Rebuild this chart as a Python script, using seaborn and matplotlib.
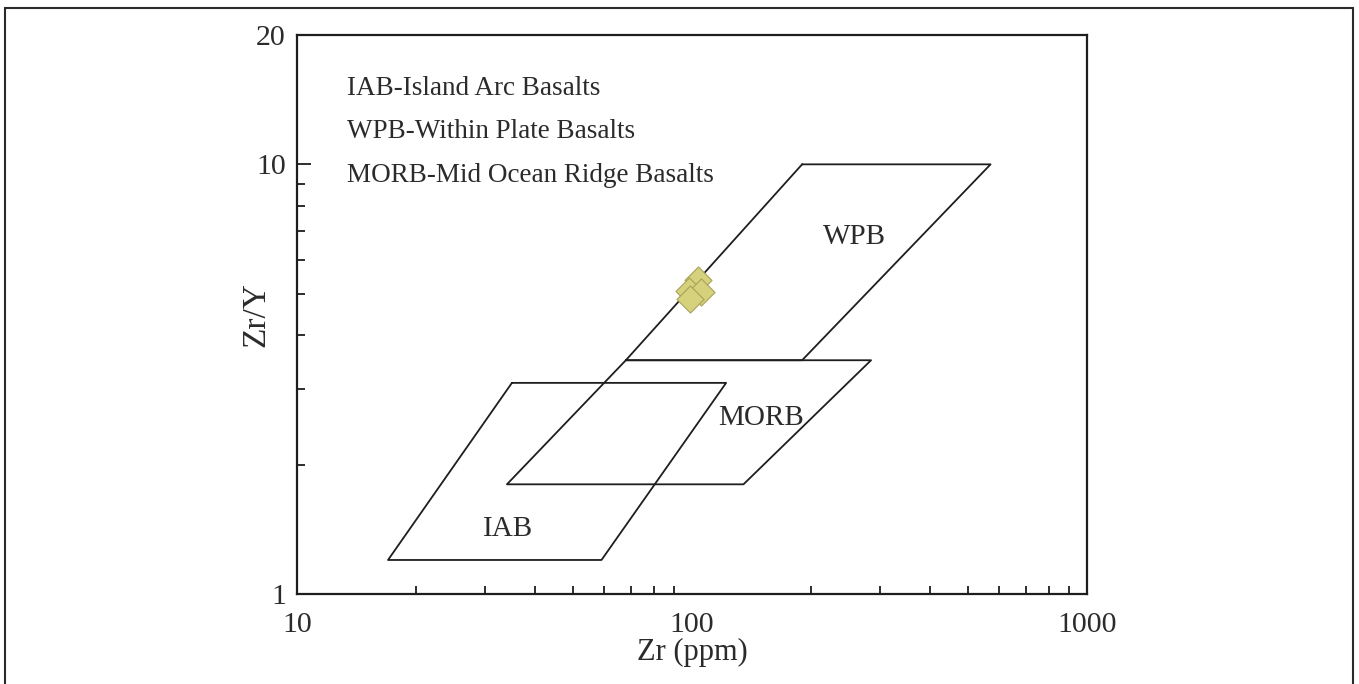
import numpy as np
import pandas as pd
import seaborn as sns
import matplotlib.pyplot as plt
from matplotlib.patches import Rectangle

# field boundaries (Zr ppm, Zr/Y)
wpb_zr = [190, 570, 190, 68, 190]
wpb_zry = [10, 10, 3.5, 3.5, 10]
morb_zr = [68, 284, 135, 34, 68]
morb_zry = [3.5, 3.5, 1.8, 1.8, 3.5]
iab_zr = [35, 122, 59, 17, 35]
iab_zry = [3.1, 3.1, 1.2, 1.2, 3.1]

# samples
sample_zr = [103.4, 98.3, 105.4, 98.7]
sample_zry = [5.38, 5.08, 5.05, 4.85]

field_names = ["WPB", "MORB", "IAB"]
field_label_pos = [(258, 6.78), (150, 2.57), (34.2, 1.42)]
notes = ["IAB-Island Arc Basalts", "WPB-Within Plate Basalts",
         "MORB-Mid Ocean Ridge Basalts"]

sns.set_style("ticks")
plt.rcParams['font.family'] = ['Liberation Serif', 'DejaVu Serif']
text_col = '#2b2b2b'

fig = plt.figure(figsize=(13.59, 6.84), dpi=100)
ax = fig.add_axes([297 / 1359, 90 / 684, 790 / 1359, 559 / 684])

for xs, ys in [(wpb_zr, wpb_zry), (morb_zr, morb_zry), (iab_zr, iab_zry)]:
    df = pd.DataFrame({"zr": xs, "zry": ys})
    sns.lineplot(data=df, x="zr", y="zry", sort=False, estimator=None,
                 color='#1e1e1e', lw=1.3, ax=ax)

samples = pd.DataFrame({"zr": sample_zr, "zry": sample_zry})
sns.scatterplot(data=samples, x="zr", y="zry", marker='D', s=190,
                color='#d5d17c', edgecolor='#a9a258', linewidth=0.8,
                zorder=5, ax=ax)

ax.set_xscale('log')
ax.set_yscale('log')
ax.set_xlim(10, 1000)
ax.set_ylim(1, 20)

ax.set_xticks([10, 100, 1000])
ax.set_xticklabels(['10', '100', '1000'])
ax.set_yticks([1, 10, 20])
ax.set_yticklabels(['1', '10', '20'])
ax.tick_params(which='both', direction='in', colors='#1e1e1e',
               labelcolor=text_col, labelsize=21.5, width=1.3)
ax.tick_params(axis='x', which='major', length=0, pad=13)
ax.tick_params(axis='y', which='major', length=10, pad=8)
ax.tick_params(which='minor', length=6)
ax.yaxis.set_minor_formatter(plt.NullFormatter())
ax.xaxis.set_minor_formatter(plt.NullFormatter())

for sp in ax.spines.values():
    sp.set_linewidth(1.6)
    sp.set_color('#1e1e1e')

ax.set_xlabel('Zr (ppm)', fontsize=22, color=text_col, labelpad=0)
ax.set_ylabel('Zr/Y', fontsize=24, color=text_col)
ax.yaxis.set_label_coords(-0.033, 0.5)

for name, (x, y) in zip(field_names, field_label_pos):
    ax.text(x, y, name, fontsize=21, color=text_col, ha='center', va='center')

for i, note in enumerate(notes):
    ax.text(0.063, 0.905 - i * 0.078, note, transform=ax.transAxes,
            fontsize=19.5, color=text_col, ha='left', va='center')

fig.patches.append(Rectangle((5 / 1359, -0.05), 1348 / 1359, 1.05 - 8 / 684,
                             transform=fig.transFigure, fill=False,
                             edgecolor='#2a2a2a', lw=1.5))

fig.savefig('out.png', dpi=100)
